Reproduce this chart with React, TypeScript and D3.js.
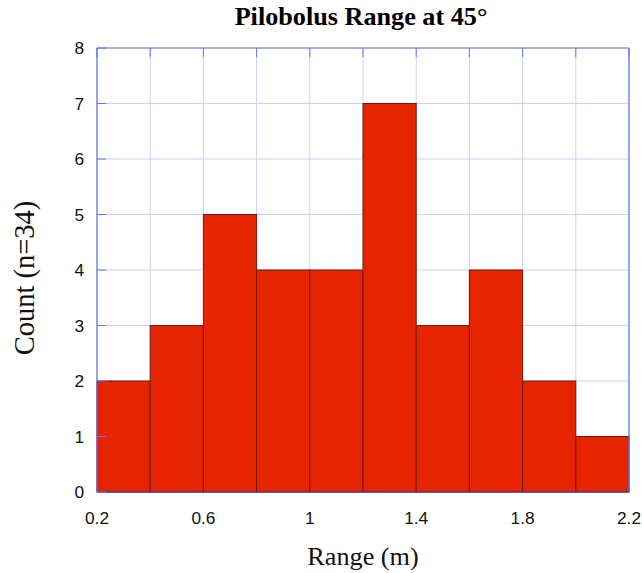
import React from "react";
import * as d3 from "d3";

const binStarts = [0.2, 0.4, 0.6, 0.8, 1.0, 1.2, 1.4, 1.6, 1.8, 2.0];
const counts = [2, 3, 5, 4, 4, 7, 3, 4, 2, 1];
const binWidth = 0.2;
const xTickLabels = [0.2, 0.6, 1, 1.4, 1.8, 2.2];
const xGrid = [0.2, 0.4, 0.6, 0.8, 1.0, 1.2, 1.4, 1.6, 1.8, 2.0, 2.2];
const yTicks = [0, 1, 2, 3, 4, 5, 6, 7, 8];

const W = 642, H = 573;
const L = 97, R = 629, T = 48, B = 492;

export default function App() {
  const x = d3.scaleLinear().domain([0.2, 2.2]).range([L, R]);
  const y = d3.scaleLinear().domain([0, 8]).range([B, T]);
  const axisColor = "#6474e6";
  const gridColor = "#c9d1fa";
  return (
    <svg width={W} height={H} style={{ position: "absolute", left: 0, top: 0 }}>
      <rect x={0} y={0} width={W} height={H} fill="#fff" />
      {xGrid.map((v, i) => (
        <line key={"gx" + i} x1={x(v)} x2={x(v)} y1={T} y2={B} stroke={gridColor} strokeWidth={1} />
      ))}
      {yTicks.map((v, i) => (
        <line key={"gy" + i} x1={L} x2={R} y1={y(v)} y2={y(v)} stroke={gridColor} strokeWidth={1} />
      ))}
      {binStarts.map((s, i) => (
        <rect
          key={"b" + i}
          x={x(s)}
          y={y(counts[i])}
          width={x(s + binWidth) - x(s)}
          height={y(0) - y(counts[i])}
          fill="#e62400"
          stroke="#6e1a10"
          strokeWidth={1}
        />
      ))}
      <line x1={L} x2={L} y1={T} y2={B} stroke={axisColor} strokeWidth={1.2} />
      <line x1={L} x2={R} y1={T} y2={T} stroke={axisColor} strokeWidth={1.2} />
      <line x1={R} x2={R} y1={T} y2={B} stroke={axisColor} strokeWidth={1.2} />
      <line x1={L} x2={R} y1={B} y2={B} stroke="#4a3a9a" strokeWidth={1.2} />
      {yTicks.map((v, i) => (
        <line key={"ty" + i} x1={L} x2={L + 9} y1={y(v)} y2={y(v)} stroke={axisColor} strokeWidth={1} />
      ))}
      {xGrid.map((v, i) => (
        <line key={"tx" + i} x1={x(v)} x2={x(v)} y1={T} y2={T + 9} stroke={axisColor} strokeWidth={1} />
      ))}
      {yTicks.map((v, i) => (
        <text key={"ly" + i} x={L - 13} y={y(v)} dy="0.36em" textAnchor="end"
          fontFamily="Liberation Sans, Arial, sans-serif" fontSize={17.3} fill="#111">{v}</text>
      ))}
      {xTickLabels.map((v, i) => (
        <text key={"lx" + i} x={x(v)} y={B + 32} textAnchor="middle"
          fontFamily="Liberation Sans, Arial, sans-serif" fontSize={17.3} fill="#111">{v}</text>
      ))}
      <text x={361} y={25} textAnchor="middle" fontFamily="Liberation Serif, Times New Roman, serif"
        fontWeight="bold" fontSize={26.2} fill="#000">Pilobolus Range at 45°</text>
      <text x={363} y={565} textAnchor="middle" fontFamily="Liberation Serif, Times New Roman, serif"
        fontSize={26.2} fill="#111">Range (m)</text>
      <text transform={`translate(34, ${278}) rotate(-90)`} textAnchor="middle"
        fontFamily="Liberation Serif, Times New Roman, serif" fontSize={28.5} fill="#111">Count (n=34)</text>
    </svg>
  );
}
